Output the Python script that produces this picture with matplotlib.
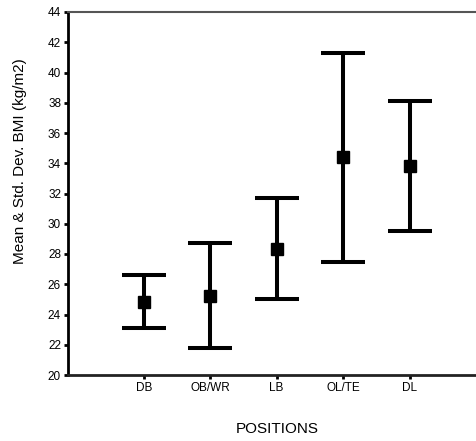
import matplotlib
matplotlib.use("Agg")
import matplotlib.pyplot as plt
import numpy as np

plt.rcParams["font.family"] = ["Liberation Sans", "DejaVu Sans"]

# data
positions = ["DB", "OB/WR", "LB", "OL/TE", "DL"]
means = [24.8, 25.2, 28.3, 34.4, 33.8]
upper = [26.6, 28.7, 31.7, 41.3, 38.1]
lower = [23.1, 21.8, 25.0, 27.5, 29.5]
y_ticks = list(range(20, 45, 2))

x = np.arange(1, len(positions) + 1)
yerr = [np.array(means) - np.array(lower), np.array(upper) - np.array(means)]

fig = plt.figure(figsize=(4.76, 4.41), dpi=100)
ax = fig.add_axes([68 / 476, 1 - 375 / 441, 1 - 68 / 476, (375 - 12) / 441])

ax.errorbar(x, means, yerr=yerr, fmt="s", color="black", ecolor="black",
            elinewidth=2.9, capsize=15.5, capthick=2.9, markersize=8.5)

ax.set_xlim(-0.14, 6.0)
ax.set_ylim(20, 44)
ax.set_xticks(x)
ax.set_xticklabels(positions, fontsize=8.5)
ax.set_yticks(y_ticks)
ax.set_yticklabels([str(t) for t in y_ticks], fontsize=8.5)
ax.tick_params(axis="both", direction="out", length=3, width=2, pad=2)

ax.spines["right"].set_visible(False)
ax.spines["top"].set_color("#555555")
ax.spines["top"].set_linewidth(1.5)
ax.spines["left"].set_linewidth(2)
ax.spines["bottom"].set_linewidth(2)
ax.spines["bottom"].set_color("#222222")

ax.set_ylabel("Mean & Std. Dev. BMI (kg/m2)", fontsize=11)
ax.yaxis.set_label_coords(-0.118, 0.59)
ax.set_xlabel("POSITIONS", fontsize=11)
ax.xaxis.set_label_coords(0.512, -0.149)
ax.xaxis.label.set_va("center")
ax.yaxis.label.set_va("center")

fig.savefig("out.png", dpi=100)
